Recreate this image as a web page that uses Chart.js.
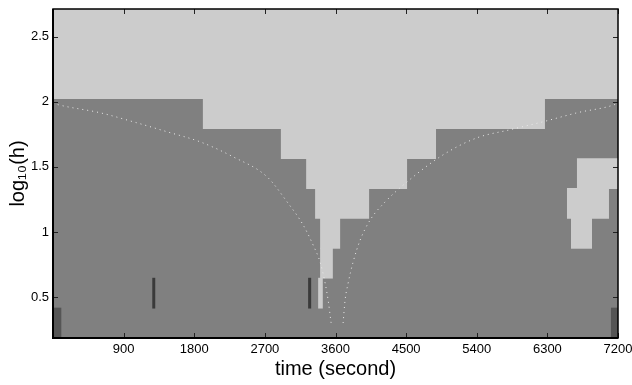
<!DOCTYPE html>
<html>
<head>
<meta charset="utf-8">
<script src="https://cdn.jsdelivr.net/npm/chart.js@4.4.1/dist/chart.umd.min.js"></script>
<style>
    html, body { margin: 0; padding: 0; background: #fff; }
</style>
</head>
<body>
<canvas id="graph" width="632" height="385"></canvas>
<script>
// centre of each log10(h) row, bottom to top
const rowLevels = [0.302, 0.531, 0.761, 0.990, 1.220, 1.449, 1.679, 1.908, 2.138, 2.367, 2.597];
const tStart = 0;
const tEnd = 7200;
// light cells for each row, [from, to] in seconds
const lightSpans = [
    [],
    [[3379, 3438]],
    [[3404, 3566]],
    [[3404, 3659], [6601, 6869]],
    [[3340, 4028], [6550, 7085]],
    [[3226, 4512], [6677, 7200]],
    [[2904, 4881]],
    [[1910, 6269]],
    [[0, 7200]],
    [[0, 7200]],
    [[0, 7200]]
];
// very dark marks in row 1
const markSpans = [[1265, 1303], [3251, 3290]];
// darker cells in the bottom row
const edgeSpans = [[0, 106], [7110, 7200]];
// dotted curves
const leftT = [0, 67, 602, 1023, 1456, 1876, 2296, 2729, 2984, 3188, 3315, 3404, 3468, 3506, 3544];
const leftV = [1.99, 1.977, 1.915, 1.846, 1.769, 1.692, 1.577, 1.423, 1.231, 1.054, 0.900, 0.769, 0.608, 0.477, 0.302];
const rightT = [3697, 3722, 3761, 3824, 3914, 4041, 4232, 4512, 4970, 5403, 5823, 6243, 6677, 7186, 7200];
const rightV = [0.302, 0.477, 0.608, 0.769, 0.938, 1.092, 1.231, 1.385, 1.592, 1.723, 1.785, 1.846, 1.915, 1.985, 1.99];
// ticks
const xTicks = [900, 1800, 2700, 3600, 4500, 5400, 6300, 7200];
const yTicks = [0.5, 1, 1.5, 2, 2.5];

Chart.defaults.font.family = "'Liberation Sans', Arial, sans-serif";
Chart.defaults.color = '#000';

// build bar data from the arrays above
var darkData = rowLevels.map(function(y){
    return {x: [tStart, tEnd], y: y};
});
var lightData = [];
lightSpans.forEach(function(spans, r){
    spans.forEach(function(s){
        lightData.push({x: s, y: rowLevels[r]});
    });
});
var markData = markSpans.map(function(s){ return {x: s, y: rowLevels[1]}; });
var edgeData = edgeSpans.map(function(s){ return {x: s, y: rowLevels[0]}; });
var leftData = leftT.map(function(t, i){ return {x: t, y: leftV[i]}; });
var rightData = rightT.map(function(t, i){ return {x: t, y: rightV[i]}; });

function barSet(data, color, order){
    return {
        type: 'bar',
        indexAxis: 'y',
        data: data,
        backgroundColor: color,
        borderWidth: 0,
        grouped: false,
        barPercentage: 1.03,
        categoryPercentage: 1,
        order: order
    };
}
function curveSet(data){
    return {
        type: 'line',
        indexAxis: 'x',
        data: data,
        borderColor: '#ececec',
        borderWidth: 1,
        borderDash: [1, 4],
        pointRadius: 0,
        fill: false,
        cubicInterpolationMode: 'monotone',
        order: 0
    };
}

// box and inward ticks, drawn on top of the cells
const frame = {
    id: 'frame',
    afterDatasetsDraw: function(chart){
        var ctx = chart.ctx;
        var a = chart.chartArea;
        var xs = chart.scales.x;
        var ys = chart.scales.y;
        ctx.save();
        ctx.strokeStyle = '#222';
        ctx.lineWidth = 1;
        ctx.beginPath();
        xTicks.forEach(function(v){
            var px = Math.round(xs.getPixelForValue(v)) + 0.5;
            ctx.moveTo(px, a.bottom);
            ctx.lineTo(px, a.bottom - 5);
            ctx.moveTo(px, a.top);
            ctx.lineTo(px, a.top + 5);
        });
        yTicks.forEach(function(v){
            var py = Math.round(ys.getPixelForValue(v)) + 0.5;
            ctx.moveTo(a.left, py);
            ctx.lineTo(a.left + 5, py);
            ctx.moveTo(a.right, py);
            ctx.lineTo(a.right - 5, py);
        });
        ctx.stroke();
        ctx.strokeStyle = '#000';
        ctx.lineWidth = 1.5;
        ctx.strokeRect(a.left, a.top, a.right - a.left, a.bottom - a.top);
        ctx.lineWidth = 2;
        ctx.beginPath();
        ctx.moveTo(a.left, a.top);
        ctx.lineTo(a.left, a.bottom);
        ctx.lineTo(a.right, a.bottom);
        ctx.stroke();
        ctx.restore();
    }
};

var ctx = document.getElementById('graph').getContext('2d');
var graph = new Chart(ctx, {
    type: 'bar',
    data: {
        datasets: [
            curveSet(leftData),
            curveSet(rightData),
            barSet(markData, '#3a3a3a', 1),
            barSet(edgeData, '#555555', 1),
            barSet(lightData, '#cccccc', 2),
            barSet(darkData, '#808080', 3)
        ]
    },
    options: {
        responsive: false,
        devicePixelRatio: 1,
        animation: false,
        events: [],
        indexAxis: 'y',
        layout: {
            padding: {top: 9, right: 14, bottom: 0, left: 0}
        },
        plugins: {
            legend: {display: false},
            tooltip: {enabled: false}
        },
        scales: {
            x: {
                type: 'linear',
                position: 'bottom',
                min: tStart,
                max: tEnd,
                offset: false,
                grid: {display: false, drawTicks: false},
                border: {display: false},
                ticks: {
                    font: {size: 13},
                    padding: 4,
                    maxRotation: 0,
                    autoSkip: false,
                    callback: function(v){ return String(v); }
                },
                afterBuildTicks: function(s){
                    s.ticks = xTicks.map(function(v){ return {value: v}; });
                },
                afterFit: function(s){
                    s.height = 47;
                    s.paddingLeft = 0;
                    s.paddingRight = 0;
                },
                title: {
                    display: true,
                    text: 'time (second)',
                    font: {size: 20},
                    padding: {top: 0, bottom: 4}
                }
            },
            y: {
                type: 'linear',
                position: 'left',
                min: 0.187,
                max: 2.7115,
                offset: false,
                grid: {display: false, drawTicks: false},
                border: {display: false},
                ticks: {
                    font: {size: 13},
                    padding: 4,
                    autoSkip: false,
                    callback: function(v){ return String(v); }
                },
                afterBuildTicks: function(s){
                    s.ticks = yTicks.map(function(v){ return {value: v}; });
                },
                afterFit: function(s){
                    s.width = 53;
                    s.paddingTop = 0;
                    s.paddingBottom = 0;
                },
                title: {
                    display: true,
                    text: 'log\u2081\u2080(h)',
                    font: {size: 20},
                    padding: {top: 6, bottom: 0}
                }
            }
        }
    },
    plugins: [frame]
});
</script>
</body>
</html>
